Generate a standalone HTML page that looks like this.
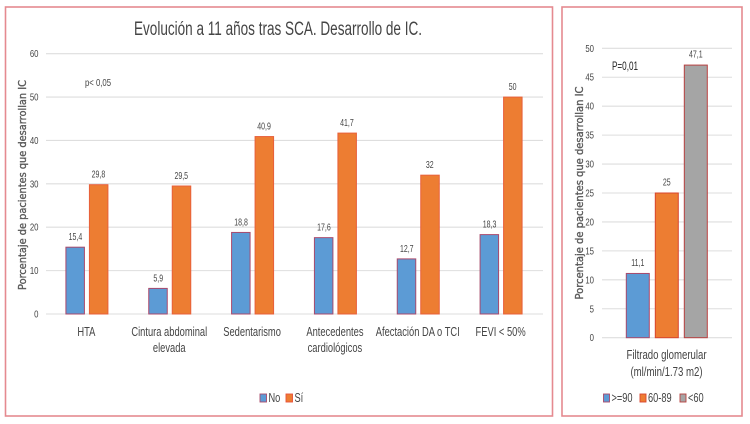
<!DOCTYPE html>
<html lang="es">
<head>
<meta charset="utf-8">
<title>Evolución a 11 años tras SCA</title>
<style>
html,body{margin:0;padding:0;background:#fff;width:750px;height:424px;overflow:hidden}
svg{display:block}
text{font-family:"Liberation Sans",sans-serif;fill:#444444}
</style>
</head>
<body>
<svg id="figure" xmlns="http://www.w3.org/2000/svg" width="750" height="424" viewBox="0 0 750 424">
  <defs><filter id="soft" x="-2%" y="-2%" width="104%" height="104%"><feGaussianBlur stdDeviation="0.3"/></filter></defs>
  <g id="root" filter="url(#soft)">
    <rect x="5.5" y="7" width="547" height="409" fill="#fff" stroke="#e58a90" stroke-width="1.6"/>
    <rect x="562" y="7" width="180" height="409" fill="#fff" stroke="#e58a90" stroke-width="1.6"/>
    <text x="134" y="35" font-size="19" textLength="288" lengthAdjust="spacingAndGlyphs">Evolución a 11 años tras SCA. Desarrollo de IC.</text>
    <text transform="translate(26 185) rotate(-90)" text-anchor="middle" font-size="10.5" style="font-family:'DejaVu Sans',sans-serif;fill:#5a5a5a;stroke:#5a5a5a;stroke-width:0.35" textLength="210" lengthAdjust="spacingAndGlyphs">Porcentaje de pacientes que desarrollan IC</text>
    <text transform="translate(583 193) rotate(-90)" text-anchor="middle" font-size="10.5" style="font-family:'DejaVu Sans',sans-serif;fill:#5a5a5a;stroke:#5a5a5a;stroke-width:0.35" textLength="213" lengthAdjust="spacingAndGlyphs">Porcentaje de pacientes que desarrollan IC</text>
    <text x="85" y="86" font-size="10.5" textLength="26" lengthAdjust="spacingAndGlyphs">p&lt; 0,05</text>
    <text x="612" y="70" font-size="12" textLength="26" lengthAdjust="spacingAndGlyphs" style="fill:#1a1a1a">P=0,01</text>
  </g>
</svg>
<script>
const leftCategories = [["HTA"], ["Cintura abdominal", "elevada"], ["Sedentarismo"], ["Antecedentes", "cardiológicos"], ["Afectación DA o TCI"], ["FEVI < 50%"]];
const leftNo = [15.4, 5.9, 18.8, 17.6, 12.7, 18.3];
const leftSi = [29.8, 29.5, 40.9, 41.7, 32, 50];
const leftTicks = [0, 10, 20, 30, 40, 50, 60];
const rightBands = [">=90", "60-89", "<60"];
const rightValues = [11.1, 25, 47.1];
const rightTicks = [0, 5, 10, 15, 20, 25, 30, 35, 40, 45, 50];
const rightCategory = ["Filtrado glomerular", "(ml/min/1.73 m2)"];

const root = document.getElementById('root');
const NS = 'http://www.w3.org/2000/svg';
const BLUE = '#5b9bd5', ORANGE = '#ed7d31', GRAY = '#a5a5a5';

function mk(tag, attrs, txt) {
  const el = document.createElementNS(NS, tag);
  for (const k in attrs) el.setAttribute(k, attrs[k]);
  if (txt !== undefined) el.textContent = txt;
  root.appendChild(el);
  return el;
}
function label(x, y, size, anchor, txt, sx) {
  return mk('text', {transform: 'translate(' + x + ' ' + y + ') scale(' + sx + ' 1)', 'font-size': size, 'text-anchor': anchor}, txt);
}
const leftY = v => 314 - (v / 60) * 260.3;
const leftX = i => 46 + (i + 0.5) * (497 / 6);
const rightY = v => 337.7 - (v / 50) * 289.4;

leftTicks.forEach(t => {
  const g = mk('line', {x1: 46, x2: 543, y1: leftY(t), y2: leftY(t), stroke: '#dedede', 'stroke-width': 1.1});
  
  
  const l = label(38.5, leftY(t) + 3.5, 10, 'end', String(t), 0.78);
  
  
});
rightTicks.forEach(t => {
  const g = mk('line', {x1: 602, x2: 732, y1: rightY(t), y2: rightY(t), stroke: '#dedede', 'stroke-width': 1.1});
  
  
  const l = label(594, rightY(t) + 3.5, 10, 'end', String(t), 0.78);
  
  
});

leftCategories.forEach((lines, i) => {
  const cx = leftX(i);
  const h0 = leftY(0);
  const b = mk('rect', {x: cx - 21.5, width: 18.5, y: leftY(leftNo[i]), height: h0 - leftY(leftNo[i]), fill: BLUE, stroke: '#a94a6c', 'stroke-width': 1});
  
  
  const o = mk('rect', {x: cx + 2, width: 18.5, y: leftY(leftSi[i]), height: h0 - leftY(leftSi[i]), fill: ORANGE, stroke: '#e8603a', 'stroke-width': 1});
  
  
  const v1 = label(cx - 12, leftY(leftNo[i]) - 7, 10, 'middle', String(leftNo[i]).replace('.', ','), 0.7);
  
  
  const v2 = label(cx + 11, leftY(leftSi[i]) - 7, 10, 'middle', String(leftSi[i]).replace('.', ','), 0.7);
  
  
  lines.forEach((line, j) => {
    const c = label(cx - 1, 336 + j * 16, 13, 'middle', line, 0.72);
    
    
  });
});

const rightFill = [BLUE, ORANGE, GRAY];
const rightStroke = ['#a94a6c', '#d8452f', '#b8403f'];
rightBands.forEach((band, i) => {
  const x = 626.3 + i * 29;
  const r = mk('rect', {x: x, width: 23, y: rightY(rightValues[i]), height: rightY(0) - rightY(rightValues[i]), fill: rightFill[i], stroke: rightStroke[i], 'stroke-width': 1});
  
  
  const v = label(x + 11.5, rightY(rightValues[i]) - 7.5, 10, 'middle', String(rightValues[i]).replace('.', ','), 0.7);
  
  
});
rightCategory.forEach((line, j) => {
  const c = label(666.5, 359 + j * 17, 13, 'middle', line, 0.74);
  
  
});

const leftLegendItems = [["No", 260, BLUE, '#a94a6c', 268.5], ["Sí", 286, ORANGE, '#e8503a', 294.5]];
leftLegendItems.forEach(it => {
  const s = mk('rect', {x: it[1], y: 394, width: 6.5, height: 8, fill: it[2], stroke: it[3], 'stroke-width': 0.9});
  
  
  const t = label(it[4], 402, 12.5, 'start', it[0], 0.74);
  
  
});
const rightLegendX = [603.5, 640, 680];
rightBands.forEach((band, i) => {
  const s = mk('rect', {x: rightLegendX[i], y: 394, width: 6, height: 8, fill: rightFill[i], stroke: rightStroke[i], 'stroke-width': 0.9});
  
  
  const t = label(rightLegendX[i] + 8, 402, 12.5, 'start', band, 0.74);
  
  
});
</script>
</body>
</html>
